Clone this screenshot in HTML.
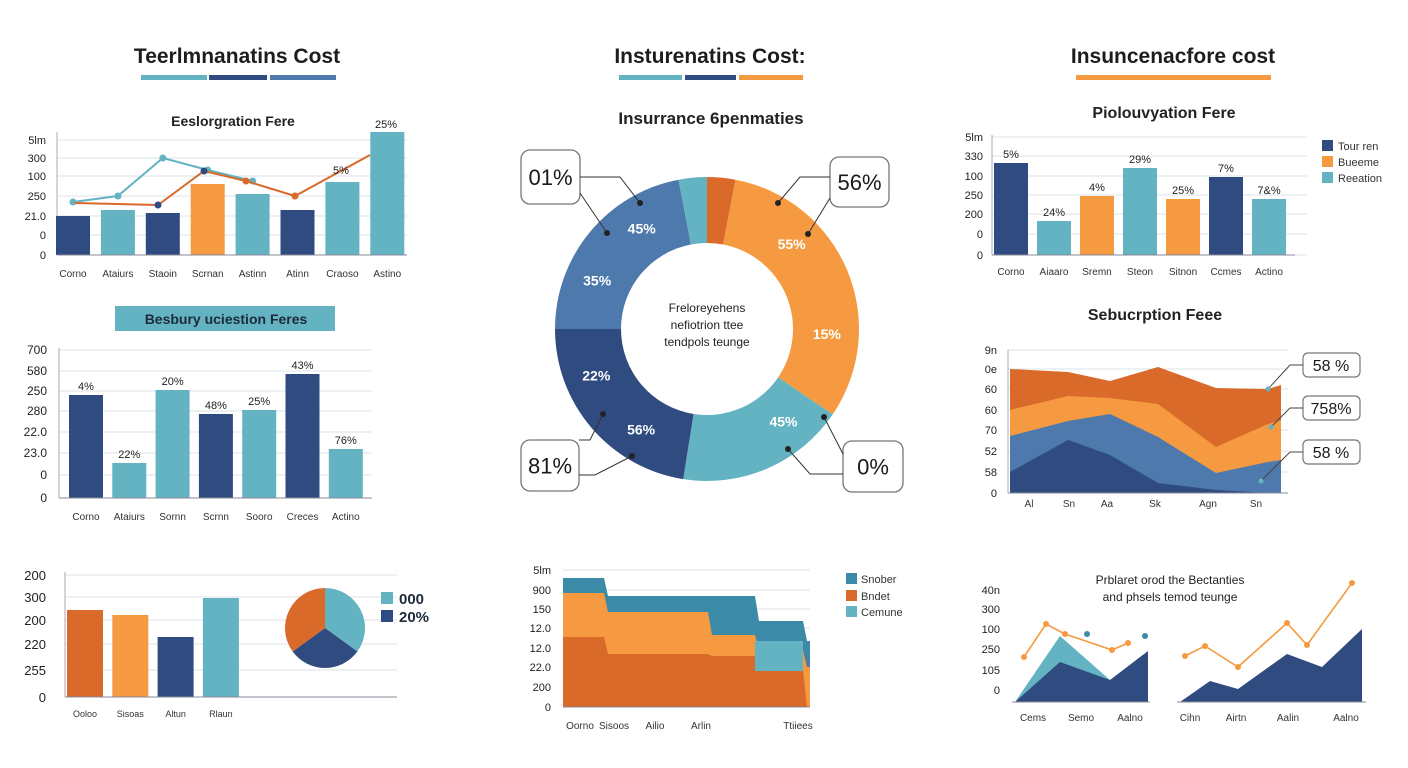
<!DOCTYPE html>
<html><head><meta charset="utf-8"><style>
html,body{margin:0;padding:0;background:#fff;}
svg{display:block;font-family:"Liberation Sans",sans-serif;}
</style></head><body>
<svg id="s" width="1408" height="768" viewBox="0 0 1408 768"></svg>
<script>
// ---- data ----
const p1Cats=["Corno","Ataiurs","Staoin","Scrnan","Astinn","Atinn","Craoso","Astino"];
const p1Bars=[39,45,42,71,61,45,73,123];
const p1BarColors=["n","t","n","o","t","n","t","t"];
const p1Teal=[53,59,97,85,74];
const p1Orange=[52,50,84,74,59,100];
const p1Ticks=["0","0","21.0","250","100","300","5lm"];
const p2Cats=["Corno","Ataiurs","Sornn","Scrnn","Sooro","Creces","Actino"];
const p2Bars=[103,35,108,84,88,124,49];
const p2Labels=["4%","22%","20%","48%","25%","43%","76%"];
const p2BarColors=["n","t","t","n","t","n","t"];
const p2Ticks=["0","0","23.0","22.0","280","250","580","700"];
const p3Cats=["Ooloo","Sisoas","Altun","Rlaun"];
const p3Bars=[87,82,60,99];
const p3BarColors=["d","o","n","t"];
const p3Ticks=["0","255","220","200","300","200"];
const pieVals=[35,30,35];
const pieColors=["t","n","d"];
const donutVals=[3,31.5,18,22.5,22,3];
const donutColors=["d","o","t","n","b","t"];
const donutLabels=["","55%|15%","45%","56%|22%","35%|45%",""];
const p4Cats=["Oorno","Sisoos","Ailio","Arlin","Ttiiees"];
const p4Back=[129,111,111,86,66];
const p4Light=[114,95,72,57,40];
const p4Dark=[70,53,51,37,0];
const p4Blue=[0,0,67,62,47];
const p4Ticks=["0","200","22.0","12.0","12.0","150","900","5lm"];
const p5Cats=["Corno","Aiaaro","Sremn","Steon","Sitnon","Ccmes","Actino"];
const p5Bars=[92,34,59,87,56,78,56];
const p5Labels=["5%","24%","4%","29%","25%","7%","7&%"];
const p5BarColors=["n","t","o","t","o","n","t"];
const p5Ticks=["0","0","200","250","100","330","5lm"];
const p6Cats=["Al","Sn","Aa","Sk","Agn","Sn"];
const p6L1=[124,121,112,126,105,104,108];
const p6L2=[83,97,95,89,46,69,73];
const p6L3=[57,72,79,56,20,31,33];
const p6L4=[21,53,38,10,3,0,0];
const p6Ticks=["0","58","52","70","60","60","0e","9n"];
const p7aNavy=[0,40,22,51];
const p7aTeal=[0,66,22,49];
const p7aOrange=[45,78,68,52,59];
const p7bNavy=[0,21,13,48,35,73];
const p7bOrange=[46,56,35,79,57,119];
const p7CatsA=["Cems","Semo","Aalno"];
const p7CatsB=["Cihn","Airtn","Aalin","Aalno"];
const p7Ticks=["0","105","250","100","300","40n"];

const C={n:"#2f4b80",t:"#64b3c3",o:"#f59a40",d:"#d96a2a",b:"#4e79ad",k:"#3a8aa8"};
const S=document.getElementById('s');
function mk(tag,a,parent){const e=document.createElementNS('http://www.w3.org/2000/svg',tag);for(const k in a)e.setAttribute(k,a[k]);(parent||S).appendChild(e);return e;}
function tx(x,y,str,size,opt){opt=opt||{};const e=mk('text',{x:x,y:y,'font-size':size,'text-anchor':opt.a||'middle',fill:opt.f||'#222','font-weight':opt.w||'normal'});e.textContent=str;return e;}
function grid(x1,x2,y,name){const e=mk('line',{x1:x1,x2:x2,y1:y,y2:y,stroke:'#dde3ea','stroke-width':1});}
function lin(lo,hi,p0,p1){return v=>p0+(v-lo)/(hi-lo)*(p1-p0);}

// ---- headers ----
[[237,"Teerlmnanatins Cost",[[141,207,"t"],[209,267,"n"],[270,336,"b"]]],[710,"Insturenatins Cost:",[[619,682,"t"],[685,736,"n"],[739,803,"o"]]],[1173,"Insuncenacfore cost",[[1076,1271,"o"]]]].forEach(h=>{
 const t=tx(h[0],63,h[1],21,{w:'bold',f:'#1d1d1d'});
 
 h[2].forEach(b=>{const r=mk('rect',{x:b[0],y:75,width:b[1]-b[0],height:5,fill:C[b[2]]});});
});
[[233,126,"Eeslorgration Fere",14],[711,124,"Insurrance 6penmaties",17],[1164,118,"Piolouvyation Fere",16],[1155,320,"Sebucrption Feee",16]].forEach(s=>{
 const t=tx(s[0],s[1],s[2],s[3],{w:'bold',f:'#222'});
});

// ---- panel 1 ----
(function(){
 const y=lin(0,120,255,135), gy=[255,235,216,196,176,158,140];
 gy.forEach((g,i)=>{grid(57,407,g,'p1-gridline');const t=tx(46,g+4,p1Ticks[i],11,{a:'end'});});
 mk('line',{x1:57,x2:57,y1:132,y2:255,stroke:'#aab'});
 const x=i=>73+i*44.9;
 p1Bars.forEach((v,i)=>{const r=mk('rect',{x:x(i)-17,y:y(v),width:34,height:255-y(v),fill:C[p1BarColors[i]]});
  const t=tx(x(i),277,p1Cats[i],10,{f:'#333'});});
 mk('line',{x1:57,x2:407,y1:255,y2:255,stroke:'#889'});
 const tp=p1Teal.map((v,i)=>[x(i),y(v)]);
 const tl=mk('polyline',{points:tp.join(' '),fill:'none',stroke:C.t,'stroke-width':2});
 tp.forEach(p=>{const c=mk('circle',{cx:p[0],cy:p[1],r:3.5,fill:C.t});});
 const ox=[75,158,204,246,295,370];
 const op=p1Orange.map((v,i)=>[ox[i],y(v)]);
 const ol=mk('polyline',{points:op.join(' '),fill:'none',stroke:C.d,'stroke-width':2});
 op.slice(1,5).forEach((p,i)=>{const c=mk('circle',{cx:p[0],cy:p[1],r:3.5,fill:i<2?C.n:C.d});});
 let t=tx(341,174,"5%",11);
 t=tx(386,128,"25%",11);
})();

// ---- panel 2 ----
(function(){
 const r0=mk('rect',{x:115,y:306,width:220,height:25,fill:C.t});
 const t0=tx(226,324,"Besbury uciestion Feres",14,{w:'bold',f:'#1d2a3a'});
 const y=lin(0,150,498,348), gy=[498,475,453,432,411,391,371,350];
 gy.forEach((g,i)=>{grid(59,372,g,'p2-gridline');const t=tx(47,g+4,p2Ticks[i],12,{a:'end'});});
 mk('line',{x1:59,x2:59,y1:348,y2:498,stroke:'#aab'});
 const x=i=>86+i*43.3;
 p2Bars.forEach((v,i)=>{const r=mk('rect',{x:x(i)-17,y:y(v),width:34,height:498-y(v),fill:C[p2BarColors[i]]});
  let t=tx(x(i),y(v)-5,p2Labels[i],11);
  t=tx(x(i),520,p2Cats[i],10,{f:'#333'});});
 mk('line',{x1:59,x2:372,y1:498,y2:498,stroke:'#889'});
})();

// ---- panel 3 ----
(function(){
 const y=lin(0,125,697,572), gy=[697,670,644,620,597,575];
 gy.forEach((g,i)=>{grid(65,397,g,'p3-gridline');const t=tx(46,g+5,p3Ticks[i],13,{a:'end'});});
 mk('line',{x1:65,x2:65,y1:572,y2:697,stroke:'#aab'});
 const x=i=>85+i*45.3;
 p3Bars.forEach((v,i)=>{const r=mk('rect',{x:x(i)-18,y:y(v),width:36,height:697-y(v),fill:C[p3BarColors[i]]});
  const t=tx(x(i),717,p3Cats[i],9,{f:'#333'});});
 mk('line',{x1:65,x2:397,y1:697,y2:697,stroke:'#889'});
 const cx=325,cy=628,R=40,tot=pieVals.reduce((a,b)=>a+b,0);let a=0;
 pieVals.forEach((v,i)=>{const a2=a+v/tot*2*Math.PI;const p=[cx+R*Math.sin(a),cy-R*Math.cos(a)],q=[cx+R*Math.sin(a2),cy-R*Math.cos(a2)];
  const e=mk('path',{d:`M${cx},${cy}L${p}A${R},${R} 0 ${a2-a>Math.PI?1:0} 1 ${q}Z`,fill:C[pieColors[i]]});a=a2;});
 [["t","000",599],["n","20%",617]].forEach(l=>{const r=mk('rect',{x:381,y:l[2]-7,width:12,height:12,fill:C[l[0]]});
  const t=tx(399,l[2]+5,l[1],15,{a:'start',f:'#1d2a3a',w:'bold'});});
})();

// ---- donut ----
(function(){
 const cx=707,cy=329,R=152,r=86,tot=donutVals.reduce((a,b)=>a+b,0);let a=0;
 donutVals.forEach((v,i)=>{const a2=a+v/tot*2*Math.PI;const P=(rr,an)=>[cx+rr*Math.sin(an),cy-rr*Math.cos(an)];const lg=a2-a>Math.PI?1:0;
  const e=mk('path',{d:`M${P(R,a)}A${R},${R} 0 ${lg} 1 ${P(R,a2)}L${P(r,a2)}A${r},${r} 0 ${lg} 0 ${P(r,a)}Z`,fill:C[donutColors[i]]});
  const labs=donutLabels[i]?donutLabels[i].split('|'):[];
  labs.forEach((L,j)=>{const am=a+(a2-a)*(labs.length==1?0.25:(j==0?0.3:0.72));const p=P(120,am);const t=tx(p[0],p[1]+5,L,14,{f:'#fff',w:'bold'});});
  a=a2;});
 ["Freloreyehens","nefiotrion ttee","tendpols teunge"].forEach((s,i)=>{const t=tx(707,323+i*17-17+6,s,12,{f:'#222'});});
 const calls=[["01%",521,150,59,54,[[580,177],[620,177],[640,203]],[[580,193],[607,233]]],["56%",830,157,59,50,[[830,177],[800,177],[778,203]],[[830,198],[808,234]]],["81%",521,440,58,51,[[579,440],[590,440],[603,414]],[[579,475],[595,475],[632,456]]],["0%",843,441,60,51,[[843,454],[824,417]],[[843,474],[810,474],[788,449]]]];
 calls.forEach(c=>{const r0=mk('rect',{x:c[1],y:c[2],width:c[3],height:c[4],rx:9,fill:'#fff',stroke:'#777','stroke-width':1.3});
  const t=tx(c[1]+c[3]/2,c[2]+c[4]/2+8,c[0],22,{f:'#1a1a1a'});
  [c[5],c[6]].forEach(pl=>{mk('polyline',{points:pl.join(' '),fill:'none',stroke:'#333','stroke-width':1});const e=pl[pl.length-1];const d=mk('circle',{cx:e[0],cy:e[1],r:3,fill:'#222'});});});
})();

// ---- panel 4 stepped area ----
(function(){
 const y=lin(0,140,707,567), gy=[707,687,667,648,628,609,590,570];
 gy.forEach((g,i)=>{grid(563,810,g,'p4-gridline');const t=tx(551,g+4,p4Ticks[i],11,{a:'end'});});
 const xe=[563,604,708,755,803];
 function step(vals,startIdx){let pts=[];for(let i=startIdx;i<vals.length;i++){pts.push([xe[i]+(i==startIdx?0:4),y(vals[i])]);pts.push([i<vals.length-1?xe[i+1]:810,y(vals[i])]);}
  return pts.concat([[pts[pts.length-1][0],707],[pts[0][0],707]]);}
 const layers=[[p4Back,0,C.k,'p4-area-back'],[p4Blue,2,C.b,'p4-area-blue'],[p4Light,0,C.o,'p4-area-light'],[p4Dark,0,C.d,'p4-area-dark']];
 layers.forEach(L=>{const e=mk('polygon',{points:step(L[0],L[1]).join(' '),fill:L[2]});});
 const lt=mk('rect',{x:755,y:y(p4Light[4]+26),width:48,height:y(p4Light[4])-y(p4Light[4]+26)+4,fill:C.t});
 mk('line',{x1:563,x2:810,y1:707,y2:707,stroke:'#889'});
 [580,614,655,701,798].forEach((xx,i)=>{const t=tx(xx,729,p4Cats[i],10,{f:'#333'});});
 [["k","Snober",579],["d","Bndet",596],["t","Cemune",612]].forEach(l=>{const r=mk('rect',{x:846,y:l[2]-6,width:11,height:11,fill:C[l[0]]});
  const t=tx(861,l[2]+4,l[1],11,{a:'start',f:'#333'});});
})();

// ---- panel 5 ----
(function(){
 const y=lin(0,120,255,135), gy=[255,234,214,195,176,156,137];
 gy.forEach((g,i)=>{grid(992,1307,g,'p5-gridline');const t=tx(983,g+4,p5Ticks[i],11,{a:'end'});});
 mk('line',{x1:992,x2:992,y1:135,y2:255,stroke:'#aab'});
 const x=i=>1011+i*43;
 p5Bars.forEach((v,i)=>{const r=mk('rect',{x:x(i)-17,y:y(v),width:34,height:255-y(v),fill:C[p5BarColors[i]]});
  let t=tx(x(i),y(v)-5,p5Labels[i],11);
  t=tx(x(i),275,p5Cats[i],10,{f:'#333'});});
 mk('line',{x1:992,x2:1295,y1:255,y2:255,stroke:'#889'});
 [["n","Tour ren",146],["o","Bueeme",162],["t","Reeation",178]].forEach(l=>{const r=mk('rect',{x:1322,y:l[2]-6,width:11,height:11,fill:C[l[0]]});
  const t=tx(1338,l[2]+4,l[1],11,{a:'start',f:'#333'});});
})();

// ---- panel 6 ----
(function(){
 const y=lin(0,143,493,350), gy=[493,472,451,430,410,389,369,350];
 gy.forEach((g,i)=>{grid(1008,1288,g,'p6-gridline');const t=tx(997,g+4,p6Ticks[i],11,{a:'end'});});
 const xs=[1010,1068,1110,1158,1216,1268,1281];
 const area=(v)=>v.map((d,i)=>[xs[i],y(d)]).concat([[1281,493],[1010,493]]).join(' ');
 [[p6L1,C.d,'p6-area-1'],[p6L2,C.o,'p6-area-2'],[p6L3,C.b,'p6-area-3'],[p6L4,C.n,'p6-area-4']].forEach(L=>{const e=mk('polygon',{points:area(L[0]),fill:L[1]});});
 mk('line',{x1:1008,x2:1288,y1:493,y2:493,stroke:'#889'});mk('line',{x1:1008,x2:1008,y1:350,y2:493,stroke:'#aab'});
 [1029,1069,1107,1155,1208,1256].forEach((xx,i)=>{const t=tx(xx,507,p6Cats[i],10,{f:'#333'});});
 [["58 %",353,[1268,389]],["758%",396,[1271,427]],["58 %",440,[1261,481]]].forEach(c=>{
  const r=mk('rect',{x:1303,y:c[1],width:57,height:24,rx:5,fill:'#fff',stroke:'#777','stroke-width':1.2});
  const t=tx(1331,c[1]+18,c[0],16,{f:'#1a1a1a'});
  mk('polyline',{points:[[1303,c[1]+12],[1290,c[1]+12],c[2]].join(' '),fill:'none',stroke:'#444','stroke-width':1});
  const d=mk('circle',{cx:c[2][0],cy:c[2][1],r:2.5,fill:C.t});});
})();

// ---- panel 7 ----
(function(){
 ["Prblaret orod the Bectanties","and phsels temod teunge"].forEach((s,i)=>{const t=tx(1170,584+i*17,s,12,{f:'#222'});});
 const y=lin(0,120,702,582);
 [690,670,649,629,609,590].forEach((g,i)=>{const t=tx(1000,g+4,p7Ticks[i],11,{a:'end'});});
 const xa=[1015,1060,1110,1148], xb=[1180,1210,1238,1287,1322,1362];
 const area=(xs,v)=>v.map((d,i)=>[xs[i],y(d)]).concat([[xs[v.length-1],702],[xs[0],702]]).join(' ');
 let e=mk('polygon',{points:area(xa,p7aTeal),fill:C.t});
 e=mk('polygon',{points:area(xa,p7aNavy),fill:C.n});
 e=mk('polygon',{points:area(xb,p7bNavy),fill:C.n});
 mk('line',{x1:1012,x2:1150,y1:702,y2:702,stroke:'#889'});mk('line',{x1:1177,x2:1366,y1:702,y2:702,stroke:'#889'});
 const oxa=[1024,1046,1065,1112,1128];
 const pa=p7aOrange.map((v,i)=>[oxa[i],y(v)]);
 e=mk('polyline',{points:pa.join(' '),fill:'none',stroke:C.o,'stroke-width':1.6});
 pa.forEach(p=>{const c=mk('circle',{cx:p[0],cy:p[1],r:3,fill:C.o});});
 [[1087,634],[1145,636]].forEach(p=>{const c=mk('circle',{cx:p[0],cy:p[1],r:3,fill:C.k});});
 const oxb=[1185,1205,1238,1287,1307,1352];
 const pb=p7bOrange.map((v,i)=>[oxb[i],y(v)]);
 e=mk('polyline',{points:pb.join(' '),fill:'none',stroke:C.o,'stroke-width':1.6});
 pb.forEach(p=>{const c=mk('circle',{cx:p[0],cy:p[1],r:3,fill:C.o});});
 [1033,1081,1130].forEach((xx,i)=>{const t=tx(xx,721,p7CatsA[i],10,{f:'#333'});});
 [1190,1236,1288,1346].forEach((xx,i)=>{const t=tx(xx,721,p7CatsB[i],10,{f:'#333'});});
})();
</script>
</body></html>
